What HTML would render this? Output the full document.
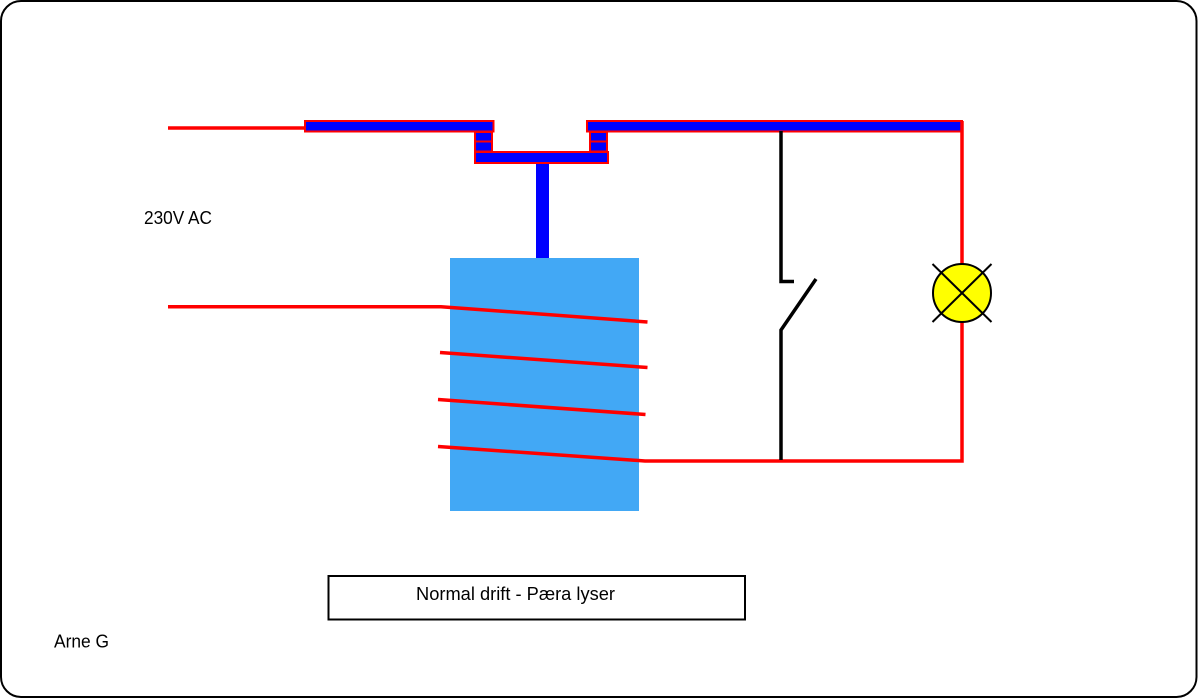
<!DOCTYPE html>
<html>
<head>
<meta charset="utf-8">
<style>
  html, body { margin: 0; padding: 0; background: #fff; }
  body { width: 1198px; height: 699px; overflow: hidden; }
  svg { display: block; }
  text { font-family: "Liberation Sans", "DejaVu Sans", sans-serif; fill: #000; }
</style>
</head>
<body>
<svg width="1198" height="699" viewBox="0 0 1198 699" xmlns="http://www.w3.org/2000/svg">
  <!-- outer frame -->
  <rect x="1" y="1" width="1195.5" height="696" rx="20" ry="20" fill="#fff" stroke="#000" stroke-width="2"/>

  <!-- coil body -->
  <rect x="450" y="258" width="189" height="253" fill="#42A8F5"/>

  <!-- plunger stem -->
  <rect x="536" y="162" width="13" height="96" fill="#0000FF"/>

  <!-- red supply wire top -->
  <line x1="168" y1="128" x2="305" y2="128" stroke="#FF0000" stroke-width="3.5"/>

  <!-- contact bars -->
  <rect x="305" y="121" width="188.5" height="10.5" fill="#0000FF" stroke="#FF0000" stroke-width="2"/>
  <rect x="587" y="121" width="375" height="10.5" fill="#0000FF" stroke="#FF0000" stroke-width="2"/>

  <!-- small blocks left -->
  <rect x="475" y="132" width="17" height="9.5" fill="#0000FF" stroke="#FF0000" stroke-width="2"/>
  <rect x="475" y="141.5" width="17" height="10" fill="#0000FF" stroke="#FF0000" stroke-width="2"/>
  <!-- small blocks right -->
  <rect x="590" y="132" width="17" height="9.5" fill="#0000FF" stroke="#FF0000" stroke-width="2"/>
  <rect x="590" y="141.5" width="17" height="10" fill="#0000FF" stroke="#FF0000" stroke-width="2"/>
  <!-- bridge bar -->
  <rect x="475" y="152" width="133" height="11" fill="#0000FF" stroke="#FF0000" stroke-width="2"/>

  <!-- coil wires -->
  <polyline points="168,306.7 441,306.7 647.5,322" fill="none" stroke="#FF0000" stroke-width="3.5"/>
  <line x1="440" y1="352.5" x2="647.5" y2="367.5" stroke="#FF0000" stroke-width="3.5"/>
  <line x1="438" y1="399.5" x2="645.5" y2="414.5" stroke="#FF0000" stroke-width="3.5"/>
  <polyline points="438,446.5 645,461 962,461 962,121" fill="none" stroke="#FF0000" stroke-width="3.5"/>

  <!-- switch -->
  <polyline points="781,131 781,281.5 794,281.5" fill="none" stroke="#000" stroke-width="3.5"/>
  <polyline points="816,279 781,330 781,460" fill="none" stroke="#000" stroke-width="3.5"/>

  <!-- lamp -->
  <circle cx="962" cy="293" r="29" fill="#FFFF00" stroke="#000" stroke-width="2"/>
  <line x1="932.5" y1="264" x2="991.5" y2="322" stroke="#000" stroke-width="2"/>
  <line x1="991.5" y1="264" x2="932.5" y2="322" stroke="#000" stroke-width="2"/>

  <!-- labels -->
  <text x="144" y="224" font-size="18" textLength="68" lengthAdjust="spacingAndGlyphs">230V AC</text>

  <rect x="328.5" y="576" width="416.5" height="43.5" fill="#fff" stroke="#000" stroke-width="2"/>
  <text x="416" y="600" font-size="18" textLength="199" lengthAdjust="spacingAndGlyphs">Normal drift - Pæra lyser</text>

  <text x="54" y="647.5" font-size="18" textLength="55" lengthAdjust="spacingAndGlyphs">Arne G</text>
</svg>
</body>
</html>
